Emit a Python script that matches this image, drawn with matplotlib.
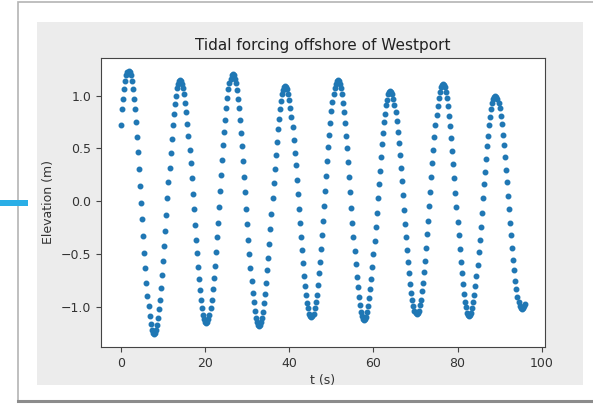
import matplotlib
matplotlib.use("Agg")
import matplotlib.pyplot as plt
import numpy as np
from matplotlib.patches import Rectangle
from matplotlib.lines import Line2D

# water elevation (m), one sample every 15 minutes, split by day
day1 = [0.72, 0.87, 0.97, 1.06, 1.14, 1.19, 1.22,
        1.23, 1.22, 1.19, 1.14, 1.06, 0.97, 0.87, 0.75, 0.61, 0.47, 0.31, 0.15, -0.01,
        -0.17, -0.33, -0.49, -0.63, -0.77, -0.89, -0.99, -1.08, -1.16, -1.21, -1.24, -1.25,
        -1.24, -1.21, -1.17, -1.10, -1.02, -0.93, -0.82, -0.69, -0.56, -0.42, -0.28, -0.13,
        0.03, 0.18, 0.32, 0.46, 0.59, 0.72, 0.83, 0.92, 1.00, 1.07, 1.11, 1.14, 1.15,
        1.14, 1.11, 1.07, 1.01, 0.93, 0.84, 0.73, 0.62, 0.49, 0.36, 0.22, 0.07,
        -0.07, -0.22, -0.36, -0.49, -0.62, -0.73, -0.84, -0.93, -1.01, -1.07, -1.11, -1.14, -1.15,
        -1.14, -1.11, -1.07, -1.01, -0.93, -0.83, -0.72, -0.61, -0.48, -0.34, -0.20, -0.05,
        0.10, 0.25]
day2 = [0.39, 0.53, 0.66, 0.77, 0.88, 0.98, 1.06, 1.12, 1.16, 1.19, 1.20,
        1.19, 1.16, 1.12, 1.05, 0.97, 0.88, 0.77, 0.65, 0.52, 0.38, 0.23, 0.09,
        -0.07, -0.21, -0.36, -0.50, -0.63, -0.75, -0.86, -0.95, -1.03, -1.10, -1.14, -1.17, -1.18,
        -1.17, -1.14, -1.10, -1.04, -0.96, -0.87, -0.77, -0.65, -0.53, -0.40, -0.26, -0.12,
        0.03, 0.17, 0.31, 0.44, 0.56, 0.68, 0.78, 0.87, 0.95, 1.01, 1.05, 1.08, 1.09,
        1.08, 1.06, 1.01, 0.96, 0.88, 0.80, 0.70, 0.58, 0.46, 0.34, 0.20, 0.07,
        -0.07, -0.20, -0.34, -0.46, -0.58, -0.70, -0.80, -0.88, -0.96, -1.01, -1.06, -1.08, -1.09,
        -1.08, -1.06, -1.01, -0.95, -0.88, -0.79, -0.68, -0.57, -0.45, -0.32]
day3 = [-0.18, -0.04, 0.10, 0.24, 0.38, 0.51, 0.63, 0.74, 0.85, 0.94, 1.01, 1.07, 1.11, 1.14, 1.15,
        1.14, 1.11, 1.07, 1.01, 0.93, 0.84, 0.74, 0.62, 0.50, 0.37, 0.23, 0.09,
        -0.06, -0.20, -0.34, -0.47, -0.59, -0.71, -0.81, -0.90, -0.98, -1.04, -1.08, -1.11, -1.12,
        -1.11, -1.09, -1.04, -0.99, -0.91, -0.83, -0.73, -0.62, -0.50, -0.37, -0.24, -0.11,
        0.03, 0.16, 0.29, 0.42, 0.54, 0.65, 0.75, 0.83, 0.91, 0.96, 1.01, 1.03, 1.04,
        1.03, 1.01, 0.97, 0.91, 0.84, 0.76, 0.66, 0.55, 0.44, 0.32, 0.19, 0.06,
        -0.08, -0.21, -0.34, -0.46, -0.57, -0.68, -0.78, -0.86, -0.93, -0.99, -1.03, -1.05, -1.06,
        -1.05, -1.03, -0.98, -0.93, -0.85, -0.77]
day4 = [-0.67, -0.56, -0.44, -0.31, -0.18, -0.04, 0.09, 0.23, 0.36, 0.49, 0.61, 0.72, 0.82,
        0.90, 0.98, 1.03, 1.08, 1.10, 1.11,
        1.10, 1.08, 1.03, 0.98, 0.90, 0.81, 0.71, 0.60, 0.48, 0.35, 0.22, 0.08,
        -0.05, -0.19, -0.32, -0.45, -0.57, -0.68, -0.78, -0.87, -0.95, -1.00, -1.05, -1.07, -1.08,
        -1.07, -1.05, -1.01, -0.95, -0.88, -0.80, -0.70, -0.60, -0.48, -0.36, -0.24, -0.11,
        0.03, 0.16, 0.28, 0.40, 0.52, 0.62, 0.72, 0.80, 0.87, 0.93, 0.97, 0.99, 1.00,
        0.99, 0.97, 0.93, 0.88, 0.81, 0.73, 0.63, 0.53, 0.42, 0.30, 0.18, 0.05,
        -0.07, -0.20, -0.32, -0.44, -0.55, -0.65, -0.75, -0.83, -0.90, -0.95, -0.99, -1.01, -1.02,
        -1.01, -0.99, -0.97]
dt = 0.25  # time between samples

title = "Tidal forcing offshore of Westport"
xlabel = "t (s)"
ylabel = "Elevation (m)"

W, H = 593, 404


# pixel box (left, top, right, bottom) -> figure fraction rect
def box(x0, y0, x1, y1):
    return [x0 / W, 1 - y1 / H, (x1 - x0) / W, (y1 - y0) / H]


def plot_forcing():
    elev = np.array(day1 + day2 + day3 + day4)
    t = np.arange(len(elev)) * dt

    fig = plt.figure(figsize=(W / 100, H / 100), dpi=100, facecolor="white")

    # window frame and grey canvas behind the plot
    fr = box(18, 2, 610, 401)
    fig.add_artist(Rectangle(fr[:2], fr[2], fr[3], transform=fig.transFigure,
                             facecolor="white", edgecolor="#b4b4b4", lw=1.2, zorder=-5))
    fig.add_artist(Line2D([18 / W, 1], [1 - 401 / H] * 2, transform=fig.transFigure,
                          color="#8c8c8c", lw=2.2, zorder=-4))
    bg = box(37, 22, 583, 385)
    fig.add_artist(Rectangle(bg[:2], bg[2], bg[3], transform=fig.transFigure,
                             facecolor="#ececec", edgecolor="none", zorder=-3))
    st = box(0, 200, 28, 206)
    fig.add_artist(Rectangle(st[:2], st[2], st[3], transform=fig.transFigure,
                             facecolor="#2aaee6", edgecolor="none", zorder=-3))

    ax = fig.add_axes(box(101, 58, 545, 347))
    ax.plot(t, elev, ".", color="#1f77b4", markersize=6.5)
    ax.set_title(title, fontsize=11, color="#222222", pad=6)
    ax.set_xlabel(xlabel, fontsize=9, color="#333333", labelpad=3)
    ax.set_ylabel(ylabel, fontsize=9, color="#333333")
    ax.tick_params(labelsize=9, colors="#444444", labelcolor="#333333")
    for s in ax.spines.values():
        s.set_color("#444444")

    fig.savefig("out.png", dpi=100, facecolor="white")


if __name__ == "__main__":
    plot_forcing()
